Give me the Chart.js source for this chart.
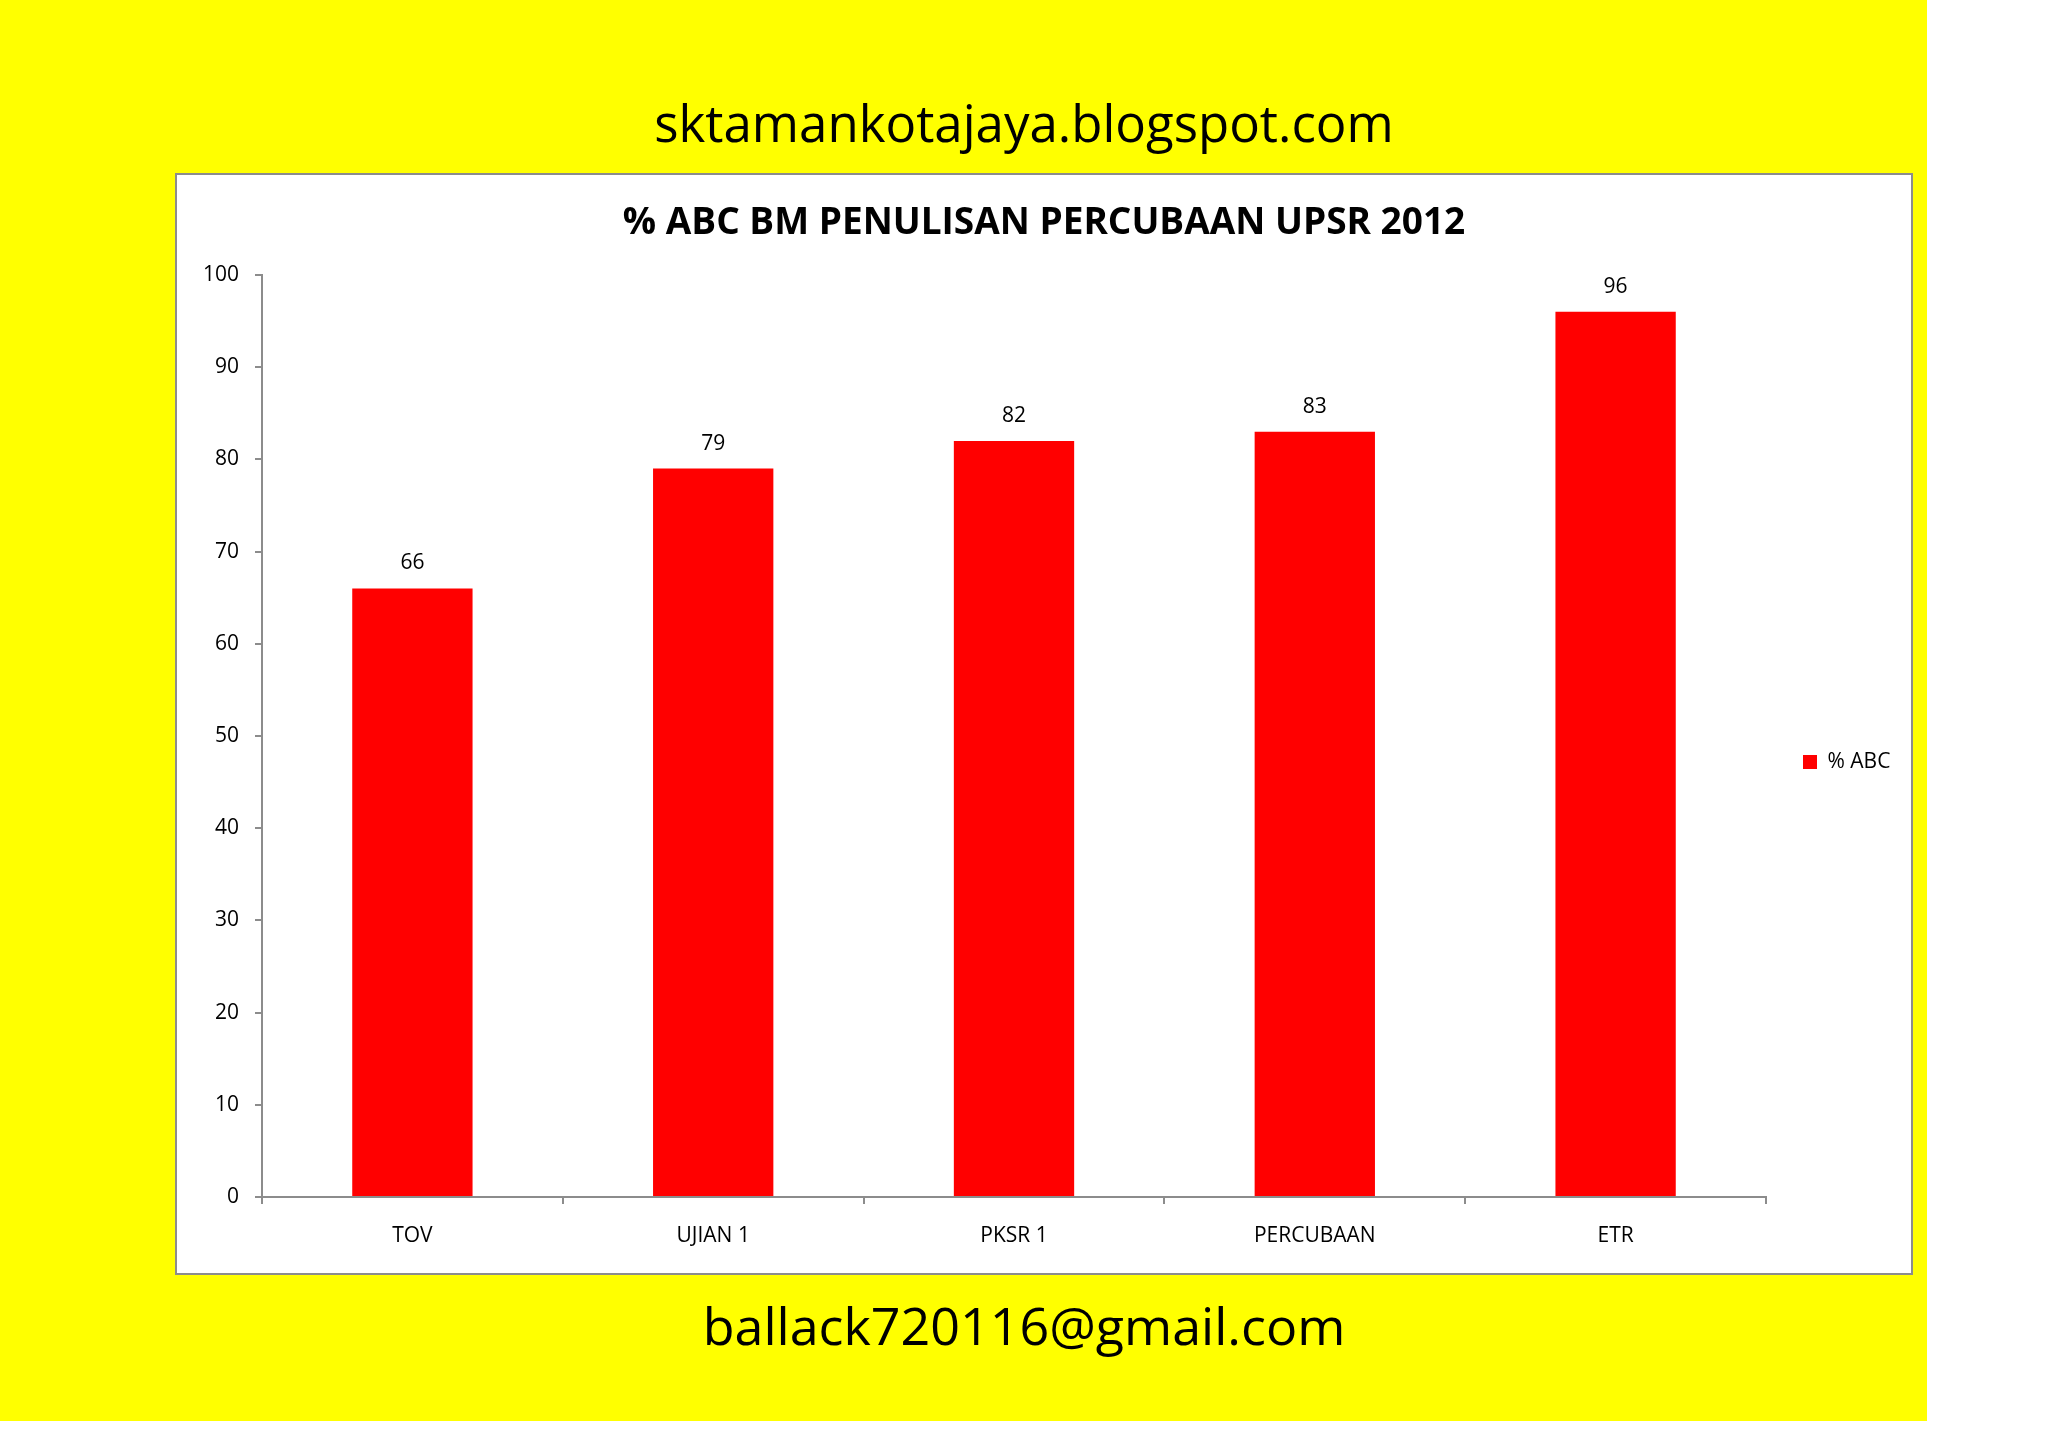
<!DOCTYPE html>
<html>
<head>
<meta charset="utf-8">
<script src="https://cdn.jsdelivr.net/npm/chart.js@4.4.1/dist/chart.umd.min.js"></script>
<style>
  html, body { margin: 0; padding: 0; background: #ffffff; }
  body { width: 2048px; height: 1448px; position: relative; overflow: hidden; font-family: 'Open Sans', sans-serif; }
  #yellow { position: absolute; left: 0; top: 0; width: 1927px; height: 1421px; background: #ffff00; }
  .caption { position: absolute; left: 0; width: 2048px; text-align: center; font-family: 'Open Sans', sans-serif; color: #000; white-space: nowrap; }
  #blog { top: 97px; font-size: 51px; line-height: 51px; }
  #mail { top: 1299px; font-size: 52px; line-height: 52px; }
  #box { position: absolute; left: 175px; top: 173px; width: 1734px; height: 1098px; border: 2px solid #8c8c8c; background: #ffffff; }
  #c { display: block; }
</style>
</head>
<body>
<div id="yellow"></div>
<div class="caption" id="blog">sktamankotajaya.blogspot.com</div>
<div class="caption" id="mail">ballack720116@gmail.com</div>
<div id="box"><canvas id="c" width="1734" height="1098" style="width:1734px;height:1098px"></canvas></div>
<script>
const chartTitle = '% ABC BM PENULISAN PERCUBAAN UPSR 2012';
const categories = ['TOV', 'UJIAN 1', 'PKSR 1', 'PERCUBAAN', 'ETR'];
const seriesName = '% ABC';
const seriesValues = [66, 79, 82, 83, 96];
const yTicks = [0, 10, 20, 30, 40, 50, 60, 70, 80, 90, 100];

Chart.defaults.font.family = "'Open Sans', sans-serif";
Chart.defaults.color = '#000000';

const AXIS = '#8c8c8c';

const dataLabels = {
  id: 'dataLabels',
  afterDatasetsDraw(chart) {
    const ctx = chart.ctx;
    const meta = chart.getDatasetMeta(0);
    ctx.save();
    ctx.font = "21px 'Open Sans', sans-serif";
    ctx.fillStyle = '#000';
    ctx.textAlign = 'center';
    ctx.textBaseline = 'middle';
    meta.data.forEach((bar, i) => {
      ctx.fillText(String(chart.data.datasets[0].data[i]), bar.x, bar.y - 25);
    });
    ctx.restore();
  }
};

const legendPlace = {
  id: 'legendPlace',
  beforeLayout(chart) {
    const L = chart.legend;
    if (L && !L._fixed) {
      const orig = L.fit.bind(L);
      L.fit = function () { orig(); this.width = 145; };
      L._fixed = true;
    }
  },
  afterLayout(chart) {
    const L = chart.legend;
    if (!L) return;
    const pad = L.options.labels.padding;
    const w = L.right - L.left;
    const left = 1626 - pad;
    L.left = left; L.right = left + w;
    const cy = 587, half = 60;
    L.top = cy - half; L.bottom = cy + half;
    L.height = half * 2;
  }
};

new Chart(document.getElementById('c'), {
  type: 'bar',
  data: {
    labels: categories,
    datasets: [{
      label: seriesName,
      data: seriesValues,
      backgroundColor: '#ff0000',
      borderWidth: 0,
      barPercentage: 0.4,
      categoryPercentage: 1.0
    }]
  },
  options: {
    responsive: false,
    animation: false,
    events: [],
    layout: { padding: { left: 0, right: 0, top: 0, bottom: 0 } },
    plugins: {
      title: {
        display: true,
        text: chartTitle,
        color: '#000',
        font: { size: 37, weight: 'bold', family: "'Open Sans', sans-serif" },
        padding: { top: 26, bottom: 29.5 }
      },
      legend: {
        display: true,
        position: 'right',
        labels: {
          boxWidth: 14,
          boxHeight: 14,
          padding: 10,
          color: '#000',
          font: { size: 21 }
        }
      },
      tooltip: { enabled: false }
    },
    scales: {
      x: {
        grid: { offset: true, drawOnChartArea: false, drawTicks: true, tickLength: 7, color: AXIS, lineWidth: 2 },
        border: { display: true, color: AXIS, width: 2 },
        ticks: { font: { size: 21 }, color: '#000', padding: 19, maxRotation: 0 },
        afterFit(scale) { scale.height = 76; }
      },
      y: {
        min: 0,
        max: 100,
        afterBuildTicks(scale) { scale.ticks = yTicks.map(v => ({ value: v })); },
        grid: { drawOnChartArea: false, drawTicks: true, tickLength: 7, color: AXIS, lineWidth: 2 },
        border: { display: true, color: AXIS, width: 2 },
        ticks: { font: { size: 21 }, color: '#000', padding: 16 },
        afterFit(scale) { scale.width = 85; }
      }
    }
  },
  plugins: [dataLabels, legendPlace]
});
</script>
</body>
</html>
